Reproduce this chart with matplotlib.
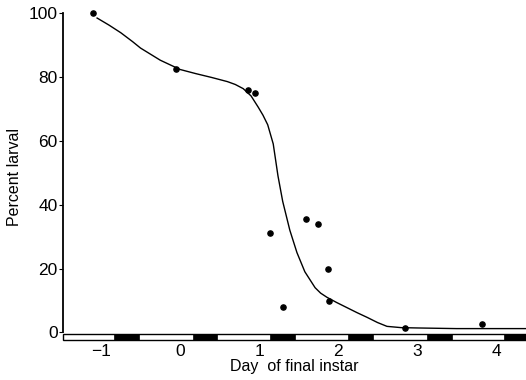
import matplotlib.pyplot as plt
from matplotlib.patches import Rectangle

plt.rcParams['font.family'] = ['Liberation Sans', 'DejaVu Sans']

# observed points (day of final instar, percent larval)
day = [-1.10, -0.05, 0.86, 0.95, 1.14, 1.30, 1.59, 1.75, 1.87, 1.88, 2.85, 3.82]
pct = [100, 82.5, 76, 75, 31, 8, 35.5, 34, 19.7, 9.7, 1.5, 2.5]

# fitted curve
curve_x = [-1.05, -0.9, -0.75, -0.6, -0.5, -0.25, 0.0, 0.2, 0.4, 0.6, 0.7, 0.8,
           0.9, 0.99, 1.05, 1.11, 1.18, 1.24, 1.30, 1.39, 1.48, 1.58, 1.71,
           1.78, 1.86, 1.98, 2.11, 2.24, 2.37, 2.5, 2.62, 2.8, 3.0, 3.5, 4.0, 4.38]
curve_y = [98.4, 96.2, 93.8, 91, 89, 85.2, 82.3, 81, 79.8, 78.5, 77.6, 76.3,
           74, 70.5, 68, 65, 59, 49, 41, 32, 25, 19, 14,
           12.3, 11, 9.4, 7.8, 6.2, 4.7, 3.1, 1.9, 1.5, 1.4, 1.2, 1.2, 1.2]

# dark phases of the photoperiod (start day), shown as black bar segments
dark_start = [-0.83, 0.16, 1.14, 2.13, 3.13, 4.10]
dark_len = 0.31

fig = plt.figure(figsize=(5.26, 3.8), dpi=100)
ax = fig.add_axes([0.12, 0.105, 0.88, 0.861])

ax.plot(curve_x, curve_y, color='black', lw=1.0)
ax.scatter(day, pct, s=14, color='black', zorder=3, clip_on=False)

# light/dark bar along the x axis
ax.add_patch(Rectangle((-1.48, -2.3), 5.9, 1.9, facecolor='white',
                       edgecolor='black', lw=1.0, clip_on=False))
for d in dark_start:
    ax.add_patch(Rectangle((d, -2.3), dark_len, 1.9, facecolor='black',
                           edgecolor='black', lw=0.5, clip_on=False))

ax.set_xlim(-1.48, 4.38)
ax.set_ylim(-2.4, 100)
ax.set_xticks([-1, 0, 1, 2, 3, 4])
ax.set_xticklabels(['\u22121', '0', '1', '2', '3', '4'])
ax.set_yticks([0, 20, 40, 60, 80, 100])
ax.tick_params(axis='x', length=0, labelsize=12.5, pad=3)
ax.tick_params(axis='y', length=3, labelsize=12.5, pad=1, direction='out')
ax.spines['top'].set_visible(False)
ax.spines['right'].set_visible(False)
ax.spines['bottom'].set_visible(False)
ax.spines['left'].set_linewidth(1.3)
ax.spines['left'].set_bounds(0, 100)

ax.set_xlabel('Day  of final instar', fontsize=11.5, labelpad=0)
ax.set_ylabel('Percent larval', fontsize=11.5, labelpad=5)

fig.savefig('out.png', dpi=100)
